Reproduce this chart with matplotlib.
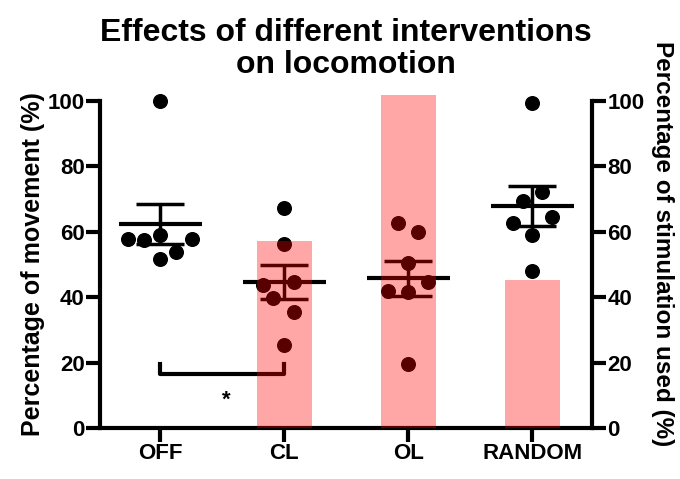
import matplotlib
matplotlib.use('Agg')
import matplotlib.pyplot as plt
import numpy as np

plt.rcParams['font.family'] = ['Liberation Sans', 'DejaVu Sans']
plt.rcParams['font.weight'] = 'bold'

groups = ['OFF', 'CL', 'OL', 'RANDOM']

# percentage of movement, individual animals
off_vals = [100, 59, 57.7, 57.5, 57.7, 53.9, 51.7]
cl_vals = [67.2, 56.3, 44.6, 43.7, 39.7, 35.4, 25.4]
ol_vals = [62.6, 60, 50.4, 44.6, 41.9, 41.5, 19.6]
random_vals = [99.3, 72.3, 69.5, 64.6, 62.6, 59, 48]

# swarm offsets
off_jit = [0, 0, -0.26, -0.13, 0.26, 0.125, 0]
cl_jit = [0, 0, 0.08, -0.17, -0.09, 0.08, 0]
ol_jit = [-0.08, 0.08, 0, 0.155, -0.16, 0, 0]
random_jit = [0, 0.08, -0.08, 0.16, -0.16, 0, 0]

means = [62.4, 44.7, 45.8, 67.9]
sems = [6.2, 5.3, 5.4, 6.0]

# percentage of stimulation used
stim_used = [0, 57.1, 102, 45.3]

fig = plt.figure(figsize=(6.8, 4.79), dpi=100)
ax = fig.add_axes([0.147, 0.1065, 0.7236, 0.6825])

all_vals = [off_vals, cl_vals, ol_vals, random_vals]
all_jit = [off_jit, cl_jit, ol_jit, random_jit]
for i, (vals, jit) in enumerate(zip(all_vals, all_jit)):
    xs = [i + j for j in jit]
    ax.plot(xs, vals, 'o', color='black', markersize=9.8, zorder=3, clip_on=False)
    ax.plot([i - 0.335, i + 0.335], [means[i], means[i]], color='black', lw=3,
            zorder=3, solid_capstyle='butt')
    ax.errorbar(i, means[i], yerr=sems[i], fmt='none', ecolor='black', elinewidth=2.5,
                capsize=17, capthick=2.5, zorder=3)

# significance bracket
ax.plot([0, 0, 1, 1], [19.6, 16.4, 16.4, 19.6], color='black', lw=3, zorder=3)
ax.text(0.53, 8.5, '*', ha='center', va='center', fontsize=16, fontweight='bold')

ax.set_xlim(-0.485, 3.48)
ax.set_ylim(0, 100)
ax.set_xticks(range(len(groups)))
ax.set_xticklabels(groups)
ax.set_yticks([0, 20, 40, 60, 80, 100])
ax.set_ylabel('Percentage of movement (%)', fontsize=18, fontweight='bold', labelpad=2)
ax.set_title('Effects of different interventions\non locomotion', fontsize=23, fontweight='bold',
             pad=20, linespacing=1.1)

ax2 = ax.twinx()
ax2.bar(range(len(groups)), stim_used, width=0.44, color='#ff0000', alpha=0.35,
        linewidth=0, clip_on=False)
ax2.set_ylim(0, 100)
ax2.set_yticks([0, 20, 40, 60, 80, 100])
ax2.set_ylabel('Percentage of stimulation used (%)', fontsize=17.5, fontweight='bold',
               rotation=270, va='center')
ax2.yaxis.set_label_coords(1.143, 0.565)

for a in (ax, ax2):
    a.spines['top'].set_visible(False)
    for side in ['left', 'right', 'bottom']:
        a.spines[side].set_linewidth(3)
    a.tick_params(width=3, length=10, pad=1, labelsize=16)
    for lab in a.get_xticklabels() + a.get_yticklabels():
        lab.set_fontweight('bold')
ax.spines['right'].set_visible(False)
ax2.spines['left'].set_visible(False)
ax2.spines['bottom'].set_visible(False)

fig.savefig('out.png', dpi=100)
